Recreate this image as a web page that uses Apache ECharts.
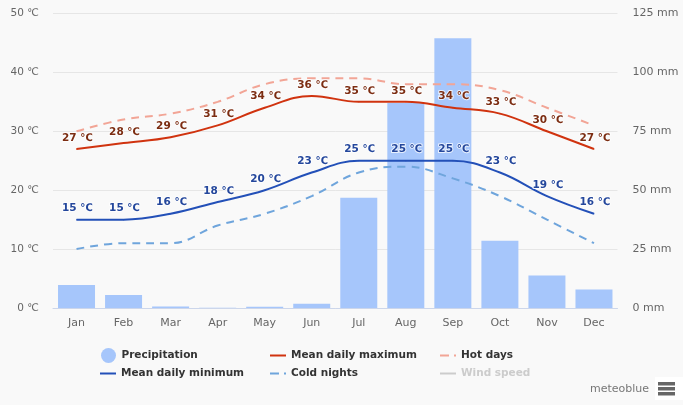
<!DOCTYPE html>
<html>
  <head>
    <meta charset="utf-8" />
    <title>Climate chart</title>
    <script src="https://cdn.jsdelivr.net/npm/echarts@6/dist/echarts.min.js"></script>
    <style>
      html, body { margin: 0; padding: 0; background: #f9f9f9; }
    </style>
  </head>

  <body>
    <div id="main" style="width: 683px; height: 405px;"></div>
    <script type="text/javascript">
      const months = ["Jan", "Feb", "Mar", "Apr", "May", "Jun", "Jul", "Aug", "Sep", "Oct", "Nov", "Dec"];
      const precipitation = [9.8, 5.5, 0.6, 0.1, 0.5, 1.8, 46.8, 87, 114.5, 28.5, 13.8, 7.8];
      const meanMax = [27, 28, 29, 31, 34, 36, 35, 35, 34, 33, 30, 27];
      const meanMin = [15, 15, 16, 18, 20, 23, 25, 25, 25, 23, 19, 16];
      const hotDays = [30, 32, 33, 35, 38, 39, 39, 38, 38, 37, 34, 31];
      const coldNights = [10, 11, 11, 14, 16, 19, 23, 24, 22, 19, 15, 11];
      const tempTicks = [0, 50, 10];
      const rainTicks = [0, 125, 25];

      const font = "DejaVu Sans";
      const solidIcon = "path://M0 0H16V2H0Z";
      const dashIcon = "path://M0 0H9V2H0ZM14 0H16V2H14Z";
      const smoothness = 0.4;

      // one legend per entry, the reference has them in fixed columns
      const legendItem = (name, left, top, icon, extra) => ({
        data: [name],
        left: left,
        top: top,
        icon: icon,
        itemWidth: 16,
        itemHeight: icon === "circle" ? 15 : 2,
        itemGap: 0,
        padding: 0,
        selectedMode: false,
        inactiveColor: "#cccccc",
        textStyle: { fontFamily: font, fontSize: 10.5, fontWeight: "bold", color: "#333333" },
        ...extra,
      });

      const lineLabel = color => ({
        show: true,
        position: "top",
        distance: 5,
        offset: [1, 0],
        formatter: "{c} ℃",
        fontFamily: font,
        fontSize: 10.5,
        fontWeight: "bold",
        color: color,
        textBorderColor: "rgba(255,255,255,0.75)",
        textBorderWidth: 2,
      });

      const myChart = echarts.init(document.getElementById("main"));
      const option = {
        backgroundColor: "#f9f9f9",
        animation: false,
        grid: { left: 53, right: 65.5, top: 13.5, bottom: 97 },
        xAxis: {
          type: "category",
          data: months,
          axisTick: { show: false },
          axisLine: { lineStyle: { color: "#ccd6eb" } },
          axisLabel: { fontFamily: font, fontSize: 11, color: "#666666", margin: 10 },
        },
        yAxis: [
          {
            type: "value",
            min: tempTicks[0],
            max: tempTicks[1],
            interval: tempTicks[2],
            axisLabel: { formatter: "{value} ℃", fontFamily: font, fontSize: 10.5, color: "#666666", margin: 14 },
            splitLine: { lineStyle: { color: "#e6e6e6" } },
          },
          {
            type: "value",
            min: rainTicks[0],
            max: rainTicks[1],
            interval: rainTicks[2],
            axisLabel: { formatter: "{value} mm", fontFamily: font, fontSize: 11, color: "#666666", margin: 15 },
            splitLine: { show: false },
          },
        ],
        legend: [
          legendItem("Precipitation", 101, 348, "circle"),
          legendItem("Mean daily maximum", 270, 350, solidIcon),
          legendItem("Hot days", 440, 350, dashIcon),
          legendItem("Mean daily minimum", 100, 368, solidIcon),
          legendItem("Cold nights", 270, 368, dashIcon),
          legendItem("Wind speed", 440, 368, solidIcon, { selected: { "Wind speed": false } }),
        ],
        series: [
          {
            name: "Precipitation",
            type: "bar",
            yAxisIndex: 1,
            barWidth: 37,
            itemStyle: { color: "#a6c6fb" },
            z: 1,
            data: precipitation,
          },
          {
            name: "Hot days",
            type: "line",
            smooth: smoothness,
            showSymbol: false,
            itemStyle: { color: "#f2a596" },
            lineStyle: { color: "#f2a596", width: 2, type: [8, 6] },
            z: 2,
            data: hotDays,
          },
          {
            name: "Cold nights",
            type: "line",
            smooth: smoothness,
            showSymbol: false,
            itemStyle: { color: "#6fa5dc" },
            lineStyle: { color: "#6fa5dc", width: 2, type: [8, 6] },
            z: 2,
            data: coldNights,
          },
          {
            name: "Mean daily maximum",
            type: "line",
            smooth: smoothness,
            symbol: "circle",
            symbolSize: 1,
            itemStyle: { color: "#d0330f" },
            lineStyle: { color: "#d0330f", width: 2 },
            label: lineLabel("#7c2d12"),
            z: 3,
            data: meanMax,
          },
          {
            name: "Mean daily minimum",
            type: "line",
            smooth: smoothness,
            symbol: "circle",
            symbolSize: 1,
            itemStyle: { color: "#2350b8" },
            lineStyle: { color: "#2350b8", width: 2 },
            label: lineLabel("#24479c"),
            z: 3,
            data: meanMin,
          },
          {
            name: "Wind speed",
            type: "line",
            itemStyle: { color: "#cccccc" },
            lineStyle: { color: "#cccccc", width: 2 },
            data: [],
          },
        ],
        graphic: [
          {
            type: "text",
            left: 590,
            top: 384,
            style: { text: "meteoblue", fontFamily: font, fontSize: 11, fill: "#777777" },
          },
          { type: "rect", left: 655, top: 377, shape: { width: 28, height: 23 }, style: { fill: "#ffffff" } },
          { type: "rect", left: 658, top: 382, shape: { width: 17, height: 3.5 }, style: { fill: "#666666" } },
          { type: "rect", left: 658, top: 387, shape: { width: 17, height: 3.5 }, style: { fill: "#666666" } },
          { type: "rect", left: 658, top: 392, shape: { width: 17, height: 3.5 }, style: { fill: "#666666" } },
        ],
      };
      myChart.setOption(option);
    </script>
  </body>
</html>
